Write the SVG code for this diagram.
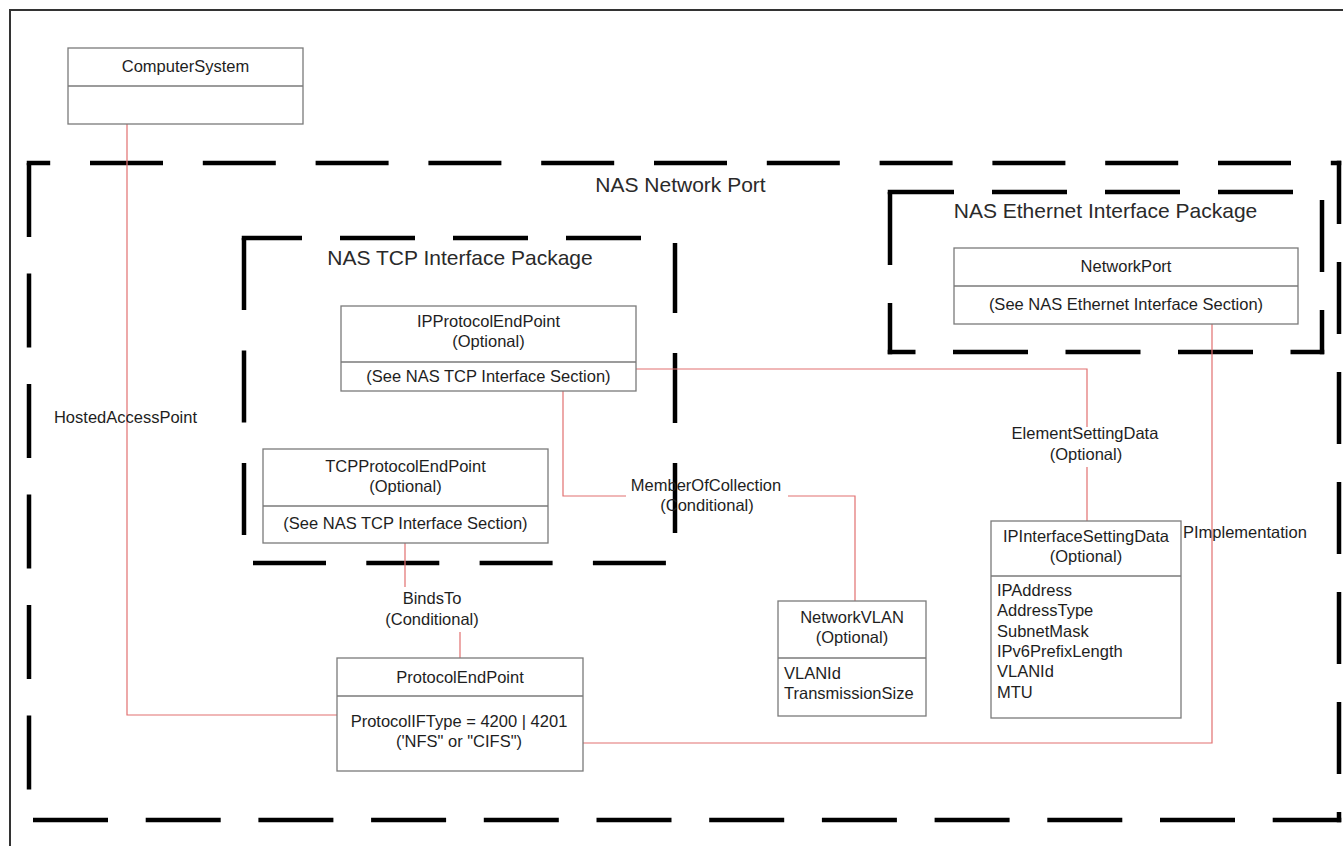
<svg xmlns="http://www.w3.org/2000/svg" width="1343" height="846" viewBox="0 0 1343 846">
<style>
.frame{fill:none;stroke:#333;stroke-width:2}
.pkg{fill:none;stroke:#000;stroke-width:4.5}
.pkgl{font-family:"Liberation Sans",Arial,sans-serif;font-size:21px;fill:#2a2a2a}
.box{fill:#fff;stroke:#7a7a7a;stroke-width:1.3}
.div{stroke:#7a7a7a;stroke-width:1.3}
.t{font-family:"Liberation Sans",Arial,sans-serif;font-size:16.5px;fill:#1e1e1e}
.c{text-anchor:middle}
.con{fill:none;stroke:#e27070;stroke-width:1.2}
</style>
<rect x="0" y="0" width="1343" height="846" fill="#fff"/>
<path class="frame" d="M10,846 V10 H1343"/>

<g id="pkg-nas-network-port">
<path class="pkg" d="M26.75,163 H1341.25" stroke-dasharray="73 39.8" stroke-dashoffset="49.55"/>
<path class="pkg" d="M1339,160.75 V822.25" stroke-dasharray="72 38" stroke-dashoffset="8.75"/>
<path class="pkg" d="M26.75,820 H1341.25" stroke-dasharray="75 37.7" stroke-dashoffset="106.45"/>
<path class="pkg" d="M29,160.75 V822.25" stroke-dasharray="74 36.5" stroke-dashoffset="-2.25"/>
<text class="pkgl c" x="680.5" y="192">NAS Network Port</text>
</g>

<g id="pkg-nas-tcp">
<path class="pkg" d="M241.75,238 H677.25" stroke-dasharray="75 38" stroke-dashoffset="14.75"/>
<path class="pkg" d="M675,235.75 V565.25" stroke-dasharray="70 40" stroke-dashoffset="102.75"/>
<path class="pkg" d="M241.75,563 H677.25" stroke-dasharray="73 40.3" stroke-dashoffset="102.05"/>
<path class="pkg" d="M244,235.75 V565.25" stroke-dasharray="72 40.5" stroke-dashoffset="-2.25"/>
<text class="pkgl c" x="460" y="265">NAS TCP Interface Package</text>
</g>

<g id="pkg-nas-ethernet">
<path class="pkg" d="M887.75,192 H1324.25" stroke-dasharray="75 38" stroke-dashoffset="8.75"/>
<path class="pkg" d="M1322,189.75 V354.25" stroke-dasharray="72 38" stroke-dashoffset="99.75"/>
<path class="pkg" d="M887.75,352 H1324.25" stroke-dasharray="75 37.5" stroke-dashoffset="47.25"/>
<path class="pkg" d="M890,189.75 V354.25" stroke-dasharray="73 38" stroke-dashoffset="-2.25"/>
<text class="pkgl c" x="1105.5" y="218">NAS Ethernet Interface Package</text>
</g>

<g id="connectors">
<g id="c-hosted">
<path class="con" d="M127,124 V715 H337"/>
<text class="t c" x="125.5" y="423">HostedAccessPoint</text>
</g>
<g id="c-esd">
<path class="con" d="M636,369 H1087 V427 M1087,467 V521"/>
<text class="t c" x="1085" y="439">ElementSettingData</text>
<text class="t c" x="1086" y="460">(Optional)</text>
</g>
<g id="c-member">
<path class="con" d="M563,391 V496 H626 M788,496 H855 V601"/>
<text class="t c" x="706" y="491">MemberOfCollection</text>
<text class="t c" x="707" y="511">(Conditional)</text>
</g>
<g id="c-binds">
<path class="con" d="M405,543 V587 M460,632 V658"/>
<text class="t c" x="432" y="604">BindsTo</text>
<text class="t c" x="432" y="625">(Conditional)</text>
</g>
<g id="c-pimpl">
<path class="con" d="M1212,324 V743 H583"/>
<text class="t" x="1183" y="538">PImplementation</text>
</g>
</g>

<g id="n-computersystem">
<rect class="box" x="68" y="48" width="235" height="76"/>
<line class="div" x1="68" y1="86" x2="303" y2="86"/>
<text class="t c" x="185.5" y="72">ComputerSystem</text>
</g>

<g id="n-ipprotocolendpoint">
<rect class="box" x="341" y="306" width="295" height="85"/>
<line class="div" x1="341" y1="362" x2="636" y2="362"/>
<text class="t c" x="488.5" y="327">IPProtocolEndPoint</text>
<text class="t c" x="488.5" y="347">(Optional)</text>
<text class="t c" x="488.5" y="382">(See NAS TCP Interface Section)</text>
</g>

<g id="n-tcpprotocolendpoint">
<rect class="box" x="263" y="449" width="285" height="94"/>
<line class="div" x1="263" y1="506" x2="548" y2="506"/>
<text class="t c" x="405.5" y="472">TCPProtocolEndPoint</text>
<text class="t c" x="405.5" y="492">(Optional)</text>
<text class="t c" x="405.5" y="529">(See NAS TCP Interface Section)</text>
</g>

<g id="n-networkport">
<rect class="box" x="954" y="248" width="344" height="76"/>
<line class="div" x1="954" y1="286" x2="1298" y2="286"/>
<text class="t c" x="1126" y="272">NetworkPort</text>
<text class="t c" x="1126" y="310">(See NAS Ethernet Interface Section)</text>
</g>

<g id="n-protocolendpoint">
<rect class="box" x="337" y="658" width="246" height="113"/>
<line class="div" x1="337" y1="696" x2="583" y2="696"/>
<text class="t c" x="460" y="683">ProtocolEndPoint</text>
<text class="t c" x="459" y="727">ProtocolIFType = 4200 | 4201</text>
<text class="t c" x="459" y="747">('NFS" or "CIFS")</text>
</g>

<g id="n-networkvlan">
<rect class="box" x="778" y="601" width="148" height="115"/>
<line class="div" x1="778" y1="658" x2="926" y2="658"/>
<text class="t c" x="852" y="623">NetworkVLAN</text>
<text class="t c" x="852" y="643">(Optional)</text>
<text class="t" x="784" y="679">VLANId</text>
<text class="t" x="784" y="699">TransmissionSize</text>
</g>

<g id="n-ipinterfacesettingdata">
<rect class="box" x="991" y="521" width="190" height="197"/>
<line class="div" x1="991" y1="576" x2="1181" y2="576"/>
<text class="t c" x="1086" y="542">IPInterfaceSettingData</text>
<text class="t c" x="1086" y="562">(Optional)</text>
<text class="t" x="997" y="596">IPAddress</text>
<text class="t" x="997" y="616">AddressType</text>
<text class="t" x="997" y="637">SubnetMask</text>
<text class="t" x="997" y="657">IPv6PrefixLength</text>
<text class="t" x="997" y="677">VLANId</text>
<text class="t" x="997" y="698">MTU</text>
</g>
</svg>
